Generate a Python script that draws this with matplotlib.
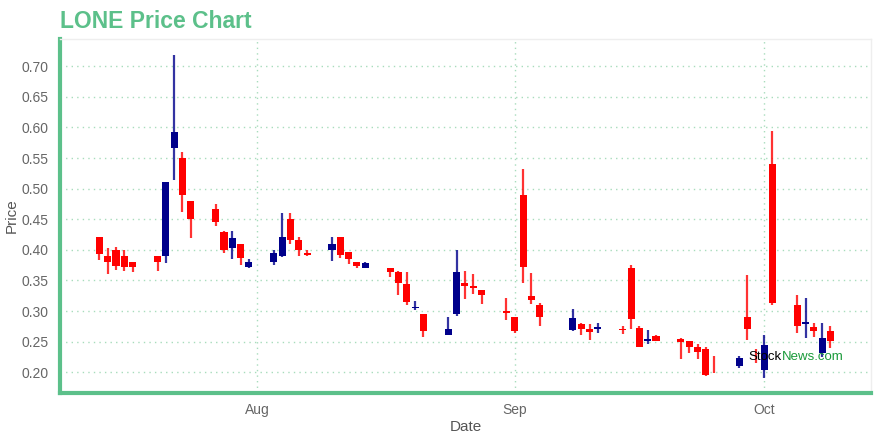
import matplotlib
matplotlib.use("Agg")
import matplotlib.pyplot as plt
import matplotlib.dates as mdates
import numpy as np
import pandas as pd

dates = ["2020-07-13", "2020-07-14", "2020-07-15", "2020-07-16", "2020-07-17",
         "2020-07-20", "2020-07-21", "2020-07-22", "2020-07-23", "2020-07-24",
         "2020-07-27", "2020-07-28", "2020-07-29", "2020-07-30", "2020-07-31",
         "2020-08-03", "2020-08-04", "2020-08-05", "2020-08-06", "2020-08-07",
         "2020-08-10", "2020-08-11", "2020-08-12", "2020-08-13", "2020-08-14",
         "2020-08-17", "2020-08-18", "2020-08-19", "2020-08-20", "2020-08-21",
         "2020-08-24", "2020-08-25", "2020-08-26", "2020-08-27", "2020-08-28",
         "2020-08-31", "2020-09-01", "2020-09-02", "2020-09-03", "2020-09-04",
         "2020-09-08", "2020-09-09", "2020-09-10", "2020-09-11",
         "2020-09-14", "2020-09-15", "2020-09-16", "2020-09-17", "2020-09-18",
         "2020-09-21", "2020-09-22", "2020-09-23", "2020-09-24", "2020-09-25",
         "2020-09-28", "2020-09-29", "2020-09-30", "2020-10-01", "2020-10-02",
         "2020-10-05", "2020-10-06", "2020-10-07", "2020-10-08", "2020-10-09"]

opens = [0.421, 0.3895, 0.399, 0.3895, 0.380,
         0.3895, 0.3895, 0.5665, 0.550, 0.4794,
         0.4663, 0.429, 0.4026, 0.409, 0.3716,
         0.380, 0.3895, 0.450, 0.4157, 0.3944,
         0.3993, 0.4206, 0.396, 0.380, 0.370,
         0.370, 0.3634, 0.3438, 0.3046, 0.2948,
         0.2605, 0.2948, 0.3454, 0.3405, 0.334,
         0.2997, 0.290, 0.4892, 0.3242, 0.3095,
         0.2686, 0.2784, 0.2703, 0.2703,
         0.2703, 0.370, 0.272, 0.2507, 0.2588,
         0.254, 0.2507, 0.2408, 0.2376, 0.210,
         0.2098, 0.290, 0.225, 0.2033, 0.5399,
         0.3095, 0.2784, 0.2735, 0.231, 0.267]

highs = [0.421, 0.4026, 0.404, 0.4005, 0.380,
         0.3895, 0.5105, 0.7185, 0.5595, 0.4794,
         0.4756, 0.430, 0.430, 0.409, 0.385,
         0.399, 0.4598, 0.4598, 0.4206, 0.399,
         0.4206, 0.4206, 0.396, 0.380, 0.380,
         0.370, 0.365, 0.3634, 0.316, 0.2948,
         0.290, 0.400, 0.365, 0.360, 0.334,
         0.321, 0.290, 0.5317, 0.3618, 0.3127,
         0.303, 0.280, 0.2784, 0.280,
         0.2752, 0.375, 0.2752, 0.2686, 0.2605,
         0.2556, 0.2507, 0.2457, 0.2408, 0.226,
         0.226, 0.3585, 0.2376, 0.2605, 0.5938,
         0.3258, 0.321, 0.280, 0.280, 0.2752]

lows = [0.383, 0.3606, 0.367, 0.3655, 0.3645,
        0.3655, 0.378, 0.5137, 0.461, 0.420,
        0.4397, 0.394, 0.385, 0.375, 0.370,
        0.3745, 0.388, 0.409, 0.3895, 0.3895,
        0.3814, 0.3863, 0.3765, 0.370, 0.370,
        0.355, 0.3258, 0.3095, 0.301, 0.257,
        0.2605, 0.2915, 0.3193, 0.3275, 0.311,
        0.285, 0.2637, 0.3454, 0.311, 0.275,
        0.267, 0.2605, 0.252, 0.2637,
        0.262, 0.2703, 0.2408, 0.2457, 0.2507,
        0.2212, 0.231, 0.2212, 0.1935, 0.1984,
        0.2065, 0.2523, 0.2147, 0.190, 0.3095,
        0.2637, 0.2556, 0.257, 0.2245, 0.2392]

closes = [0.393, 0.380, 0.373, 0.372, 0.372,
          0.380, 0.5105, 0.592, 0.490, 0.4505,
          0.4456, 0.3993, 0.419, 0.386, 0.380,
          0.394, 0.4206, 0.4157, 0.3993, 0.391,
          0.409, 0.391, 0.3846, 0.3732, 0.378,
          0.3634, 0.3454, 0.3144, 0.3062, 0.267,
          0.2703, 0.3634, 0.3405, 0.3373, 0.3258,
          0.2964, 0.267, 0.3716, 0.3176, 0.290,
          0.2882, 0.2703, 0.2654, 0.2735,
          0.2686, 0.2866, 0.2408, 0.254, 0.2507,
          0.249, 0.2408, 0.2327, 0.195, 0.210,
          0.2229, 0.2703, 0.225, 0.2441, 0.3127,
          0.2752, 0.2817, 0.267, 0.2556, 0.2507]

y_ticks = [0.20, 0.25, 0.30, 0.35, 0.40, 0.45, 0.50, 0.55, 0.60, 0.65, 0.70]

UP = "#00008b"
DOWN = "#ff0000"
GREEN = "#5cc08a"
GRID = "#a8dcbc"

plt.rcParams['font.family'] = ['Liberation Sans', 'DejaVu Sans']

fig = plt.figure(figsize=(8.8, 4.4), dpi=100)
ax = fig.add_axes([60/880, 47/440, 811/880, 354/440])

x = mdates.date2num(pd.to_datetime(dates).to_pydatetime())
o = np.array(opens); h = np.array(highs); l = np.array(lows); c = np.array(closes)
colors = [UP if cc > oo else DOWN for oo, cc in zip(o, c)]

ax.vlines(x, l, h, colors=colors, linewidth=1.6, alpha=0.8, zorder=3)
bottom = np.minimum(o, c)
height = np.abs(c - o)
ax.bar(x, height, bottom=bottom, width=0.85, color=colors, linewidth=0, zorder=4)

ax.set_xlim(mdates.date2num(pd.Timestamp("2020-07-08 06:15")),
            mdates.date2num(pd.Timestamp("2020-10-13 21:00")))
ax.set_ylim(0.1660, 0.7445)
ax.set_yticks(y_ticks)
ax.yaxis.set_major_formatter(matplotlib.ticker.FormatStrFormatter('%.2f'))
ax.xaxis.set_major_locator(mdates.MonthLocator())
ax.xaxis.set_major_formatter(mdates.DateFormatter('%b'))

ax.grid(True, color=GRID, linestyle=(0, (1, 3)), linewidth=1.0, zorder=0)
ax.set_axisbelow(True)
ax.tick_params(axis='y', length=0, colors="#666666", labelsize=10, pad=8)
ax.tick_params(axis='x', length=0, colors="#666666", labelsize=10, pad=7)
for lab in ax.get_xticklabels() + ax.get_yticklabels():
    lab.set_color("#666666")

ax.spines['left'].set_color(GREEN); ax.spines['left'].set_linewidth(3)
ax.spines['bottom'].set_color(GREEN); ax.spines['bottom'].set_linewidth(3)
ax.spines['top'].set_color("#eeeeee"); ax.spines['top'].set_linewidth(1)
ax.spines['right'].set_color("#eeeeee"); ax.spines['right'].set_linewidth(1)

ax.set_xlabel("Date", color="#555555", fontsize=11, labelpad=2)
ax.set_ylabel("Price", color="#555555", fontsize=11, labelpad=2)

fig.text(60/880, 1 - 21/440, "LONE Price Chart", color=GREEN, fontsize=16.5,
         fontweight='bold', ha='left', va='center')

t1 = ax.text(0.849, 0.085, "Stock", transform=ax.transAxes, fontsize=9.5,
             color="black", ha='left', va='bottom', zorder=6)
ax.annotate("News.com", xy=(1, 0), xycoords=t1, xytext=(0, 0),
            textcoords='offset points', fontsize=9.5, color="#1a9a3a",
            ha='left', va='bottom', zorder=6)

fig.savefig("out.png", dpi=100)
